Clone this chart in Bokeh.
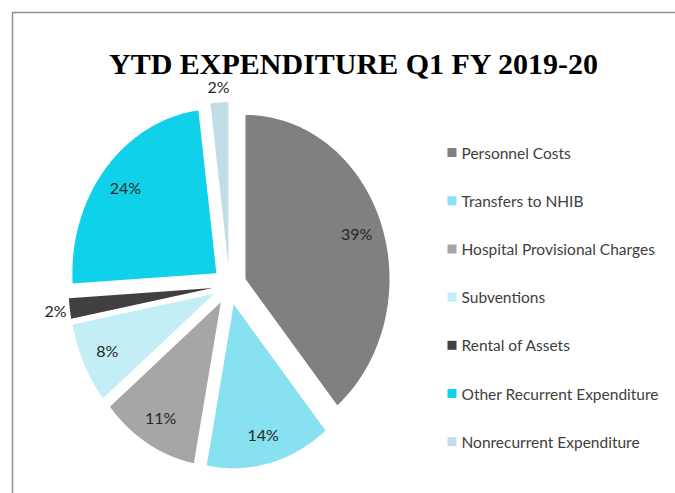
import numpy as np
from bokeh.plotting import figure
from bokeh.models import Range1d
from bokeh.core.properties import value
from bokeh.embed import file_html
from bokeh.resources import INLINE

# ---- data ----
title_text = "YTD EXPENDITURE Q1 FY 2019-20"
categories = ["Personnel Costs", "Transfers to NHIB", "Hospital Provisional Charges",
              "Subventions", "Rental of Assets", "Other Recurrent Expenditure",
              "Nonrecurrent Expenditure"]
values = [39, 14, 11, 8, 2, 24, 2]
colors = ["#808080", "#87E1F0", "#A6A6A6", "#C3EEF6", "#404040", "#0FD1EA", "#C3DDE6"]

# ---- layout (pixels) ----
W, H = 675, 493
CX, CY = 229, 208          # pie centre
RX, RY = 144, 164          # ellipse radii
EXPLODE = 0.118

p = figure(width=W, height=H, x_range=Range1d(0, W), y_range=Range1d(0, H),
           output_backend="svg", toolbar_location=None, min_border=0)
p.axis.visible = False
p.grid.visible = False
p.outline_line_color = None
p.background_fill_color = "white"
p.border_fill_color = "white"

# chart border (top & left)
p.line(x=[12, 12, W], y=[0, 481, 481], line_color="#8f8f8f", line_width=1.5)

total = float(sum(values))
cum = np.concatenate([[0.0], np.cumsum(values)]) / total
xs, ys, lx, ly, labels = [], [], [], [], []
for i, v in enumerate(values):
    a0, a1 = 2 * np.pi * cum[i], 2 * np.pi * cum[i + 1]
    mid = (a0 + a1) / 2
    ox = CX + EXPLODE * RX * np.sin(mid)
    oy = CY + EXPLODE * RY * np.cos(mid)
    t = np.linspace(a0, a1, 120)
    xs.append(list(np.concatenate([[ox], ox + RX * np.sin(t)])))
    ys.append(list(np.concatenate([[oy], oy + RY * np.cos(t)])))
    f = 0.82 if v / total >= 0.05 else 1.1
    lx.append(ox + f * RX * np.sin(mid))
    ly.append(oy + f * RY * np.cos(mid))
    labels.append(f"{round(100 * v / total)}%")

p.patches(xs=xs, ys=ys, fill_color=colors, line_color=None)
p.text(x=lx, y=ly, text=labels, text_font=value("Lato"), text_font_size="16px",
       text_color="#262626", text_align="center", text_baseline="middle")

# title
p.text(x=[353.5], y=[430], text=[title_text], text_font=value("Liberation Serif"),
       text_font_style="bold", text_font_size="30px", text_color="black",
       text_align="center", text_baseline="alphabetic")

# legend
n = len(categories)
leg_y = [341 - 48.2 * i for i in range(n)]
p.scatter(x=[451.5] * n, y=leg_y, marker="square", size=9, fill_color=colors, line_color=None)
p.text(x=[461] * n, y=leg_y, text=categories, text_font=value("Lato"), text_font_size="15.5px",
       text_color="#404040", text_align="left", text_baseline="middle")

open("out.html", "w").write(file_html(p, INLINE))
